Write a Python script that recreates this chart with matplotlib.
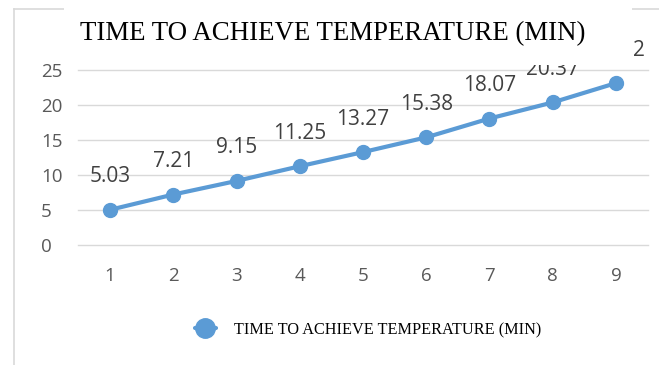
import matplotlib.pyplot as plt
from matplotlib.patches import Rectangle
from matplotlib.lines import Line2D
from matplotlib.transforms import Bbox, TransformedBbox

# heating runs and minutes needed to reach temperature
runs = [1, 2, 3, 4, 5, 6, 7, 8, 9]
minutes = [5.03, 7.21, 9.15, 11.25, 13.27, 15.38, 18.07, 20.37, 23.13]
y_ticks = [0, 5, 10, 15, 20, 25]
title = "TIME TO ACHIEVE TEMPERATURE (MIN)"

W, H = 659, 365
BLUE = "#5B9BD5"
GRID = "#D9D9D9"

fig = plt.figure(figsize=(W / 100, H / 100), dpi=100)
ax = fig.add_axes([78.4 / W, (H - 245) / H, 569.2 / W, 175 / H])

ax.plot(runs, minutes, color=BLUE, linewidth=3, marker="o", markersize=10,
        solid_capstyle="round", zorder=3, label=title)

ax.set_xlim(0.5, 9.5)
ax.set_ylim(0, 25)
ax.set_xticks(runs)
ax.set_yticks(y_ticks)
ax.grid(axis="y", color=GRID, linewidth=1.0, clip_on=False)
ax.set_axisbelow(True)
for s in ax.spines.values():
    s.set_visible(False)
ax.tick_params(length=0, labelsize=13.5, labelcolor="#595959")
ax.tick_params(axis="x", pad=16)
for lab in ax.get_xticklabels() + ax.get_yticklabels():
    lab.set_fontfamily("Open Sans")
# y labels sit left-aligned in a column
ax.tick_params(axis="y", pad=27)
for lab in ax.get_yticklabels():
    lab.set_horizontalalignment("left")

# value labels above each point
right_clip = TransformedBbox(Bbox([[0, 0], [644 / W, 1]]), fig.transFigure)
for i, (x, v) in enumerate(zip(runs, minutes)):
    last = i == len(runs) - 1
    t = ax.annotate(f"{v:.2f}", (x, v), xytext=(12 if last else 0, 23.8),
                    textcoords="offset points", ha="left" if last else "center",
                    va="center", fontsize=15, color="#404040",
                    family="Open Sans", annotation_clip=False, zorder=4)
    if last:
        t.set_clip_box(right_clip)
        t.set_clip_on(True)

# outer chart frame (left and top edges)
fig.add_artist(Line2D([13.5 / W, 13.5 / W], [0, (H - 8.5) / H],
                      color=GRID, linewidth=1.2))
fig.add_artist(Line2D([13.5 / W, 1], [(H - 8.5) / H, (H - 8.5) / H],
                      color=GRID, linewidth=1.2))

# white title box over the frame
fig.add_artist(Rectangle((64 / W, (H - 65) / H), (632 - 64) / W, 65 / H,
                         transform=fig.transFigure, facecolor="white",
                         edgecolor="none", zorder=5))
fig.text(333 / W, (H - 34) / H, title, ha="center", va="center",
         fontsize=19.4, family="Liberation Serif", color="black", zorder=6)

fig.legend(loc="center", bbox_to_anchor=(368 / W, (H - 330) / H),
           frameon=False, handlelength=1.3, handletextpad=1.1, markerscale=1.4,
           prop={"family": "Liberation Serif", "size": 11.7})

fig.savefig("out.png", dpi=100)
